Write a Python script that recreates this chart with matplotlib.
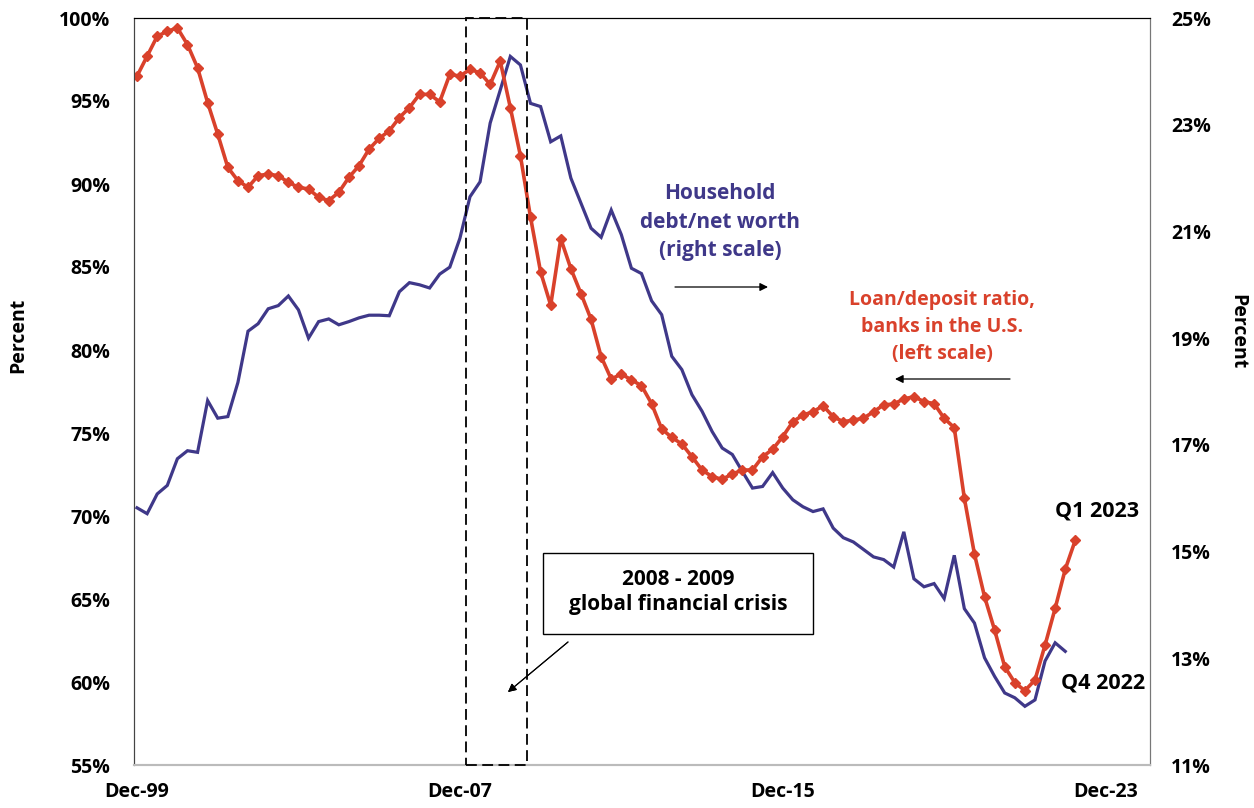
import numpy as np
import matplotlib
matplotlib.use('Agg')
import matplotlib.pyplot as plt
from matplotlib.patches import Rectangle

plt.rcParams.update({'font.family': ['Open Sans', 'DejaVu Sans']})
plt.rcParams.update({'font.weight': 'bold'})

#%% data (quarterly, Q4 1999 .. Q1 2023)
loan_deposit = [96.5, 97.7, 98.9, 99.2, 99.4, 98.4, 97.0, 94.9, 93.0, 91.0,
                90.2, 89.8, 90.5, 90.6, 90.5, 90.1, 89.8, 89.7, 89.2, 89.0,
                89.5, 90.4, 91.1, 92.1, 92.75, 93.2, 94.0, 94.6, 95.4, 95.4,
                94.95, 96.6, 96.5, 96.9, 96.7, 96.0, 97.4, 94.6, 91.7, 88.0,
                84.7, 82.7, 86.7, 84.9, 83.4, 81.85, 79.6, 78.25, 78.55, 78.2,
                77.85, 76.77, 75.25, 74.73, 74.34, 73.57, 72.77, 72.37, 72.21, 72.53,
                72.77, 72.77, 73.57, 74.02, 74.78, 75.68, 76.08, 76.28, 76.64, 75.98,
                75.68, 75.78, 75.89, 76.28, 76.69, 76.75, 77.05, 77.19, 76.89, 76.77,
                75.89, 75.32, 71.07, 67.71, 65.14, 63.13, 60.92, 59.96, 59.48, 60.12,
                62.23, 64.44, 66.79, 68.55]

debt_networth = [15.82, 15.71, 16.08, 16.24, 16.74, 16.89, 16.86, 17.83, 17.50, 17.53,
                 18.17, 19.13, 19.27, 19.55, 19.61, 19.79, 19.53, 19.00, 19.31, 19.36,
                 19.25, 19.31, 19.38, 19.43, 19.43, 19.42, 19.87, 20.04, 20.00, 19.94,
                 20.20, 20.33, 20.87, 21.65, 21.93, 23.03, 23.65, 24.28, 24.12, 23.40,
                 23.34, 22.68, 22.79, 22.00, 21.53, 21.06, 20.89, 21.40, 20.94, 20.31,
                 20.21, 19.70, 19.44, 18.66, 18.41, 17.94, 17.63, 17.25, 16.94, 16.82,
                 16.50, 16.19, 16.22, 16.48, 16.19, 15.97, 15.84, 15.75, 15.80, 15.44,
                 15.26, 15.18, 15.04, 14.90, 14.85, 14.71, 15.37, 14.49, 14.34, 14.40,
                 14.12, 14.93, 13.93, 13.66, 13.01, 12.66, 12.35, 12.26, 12.10, 12.22,
                 12.95, 13.29, 13.13]

xtick_pos = [0, 32, 64, 96]
xtick_labels = ['Dec-99', 'Dec-07', 'Dec-15', 'Dec-23']
left_ticks = [55, 60, 65, 70, 75, 80, 85, 90, 95, 100]
right_ticks = [11, 13, 15, 17, 19, 21, 23, 25]

red = '#d9412b'
purple = '#3f3889'

W, H = 1254, 808
def fp(px, py):
    # pixel position (top-left origin) -> figure fraction
    return px / W, 1 - py / H

#%% plot
fig = plt.figure(figsize=(12.54, 8.08), dpi=100)
ax = fig.add_axes([134 / W, 1 - 765 / H, (1150 - 134) / W, (765 - 18) / H])
ax2 = ax.twinx()
ax.set_zorder(ax2.get_zorder() + 1)
ax.patch.set_visible(False)

q_red = np.arange(len(loan_deposit))
q_blue = np.arange(len(debt_networth))
ax2.plot(q_blue, debt_networth, color=purple, lw=2.3, solid_joinstyle='miter')
ax.plot(q_red, loan_deposit, color=red, lw=2.6, marker='D', markersize=4.8)

ax.set_xlim(-0.3, 100.4)
ax.set_ylim(55, 100)
ax2.set_ylim(11, 25)
ax.set_xticks(xtick_pos)
ax.set_xticklabels(xtick_labels)
ax.set_yticks(left_ticks)
ax.set_yticklabels(['%d%%' % v for v in left_ticks])
ax2.set_yticks(right_ticks)
ax2.set_yticklabels(['%d%%' % v for v in right_ticks])
ax.tick_params(axis='both', length=0, labelsize=14)
ax.tick_params(axis='y', pad=17)
ax.tick_params(axis='x', pad=12)
ax2.tick_params(axis='y', length=0, labelsize=14, pad=15)

for a in (ax, ax2):
    a.spines['top'].set_color('black')
    a.spines['left'].set_color('#444444')
    a.spines['right'].set_color('#777777')
    a.spines['bottom'].set_color('#bbbbbb')
    a.spines['bottom'].set_linewidth(1.5)

ax.set_ylabel('Percent', fontsize=14, fontweight='bold')
ax.yaxis.set_label_coords(-0.104, 0.575)
ax2.set_ylabel('Percent', fontsize=14, fontweight='bold', rotation=270, va='center')
ax2.yaxis.set_label_coords(1.086, 0.58)

# crisis window
ax.add_patch(Rectangle((32.6, 0), 6.05, 1, transform=ax.get_xaxis_transform(),
                       fill=False, ls=(0, (6, 3)), lw=1.3, ec='black', clip_on=False, zorder=5))

# annotation box
x0, y0 = fp(543, 634)
x1, y1 = fp(813, 553)
fig.patches.append(Rectangle((x0, y0), x1 - x0, y1 - y0, transform=fig.transFigure,
                             fill=True, fc='white', ec='black', lw=1.0, zorder=6))
fig.text(*fp(678, 592), '2008 - 2009\nglobal financial crisis', ha='center', va='center',
         fontsize=15, fontweight='bold', linespacing=1.3, zorder=7)
fig.add_artist(plt.annotate('', xy=fp(508, 692), xytext=fp(568, 642),
                            xycoords='figure fraction', textcoords='figure fraction',
                            arrowprops=dict(arrowstyle='-|>', color='black', lw=0.8,
                                            mutation_scale=12, shrinkA=0, shrinkB=0)))

# series labels
fig.text(*fp(720, 222), 'Household\ndebt/net worth\n(right scale)', ha='center', va='center',
         color=purple, fontsize=15, fontweight='bold', linespacing=1.45)
fig.text(*fp(942, 327), 'Loan/deposit ratio,\nbanks in the U.S.\n(left scale)', ha='center',
         va='center', color=red, fontsize=14, fontweight='bold', linespacing=1.5)
ax.annotate('', xy=fp(768, 287), xytext=fp(675, 287), xycoords='figure fraction',
            textcoords='figure fraction',
            arrowprops=dict(arrowstyle='-|>', color='black', lw=0.9, mutation_scale=12,
                            shrinkA=0, shrinkB=0))
ax.annotate('', xy=fp(895, 379), xytext=fp(1010, 379), xycoords='figure fraction',
            textcoords='figure fraction',
            arrowprops=dict(arrowstyle='-|>', color='black', lw=0.9, mutation_scale=12,
                            shrinkA=0, shrinkB=0))

fig.text(*fp(1097, 511), 'Q1 2023', ha='center', va='center', fontsize=15.5, fontweight='bold')
fig.text(*fp(1103, 683), 'Q4 2022', ha='center', va='center', fontsize=15.5, fontweight='bold')

fig.savefig('out.png', dpi=100)
